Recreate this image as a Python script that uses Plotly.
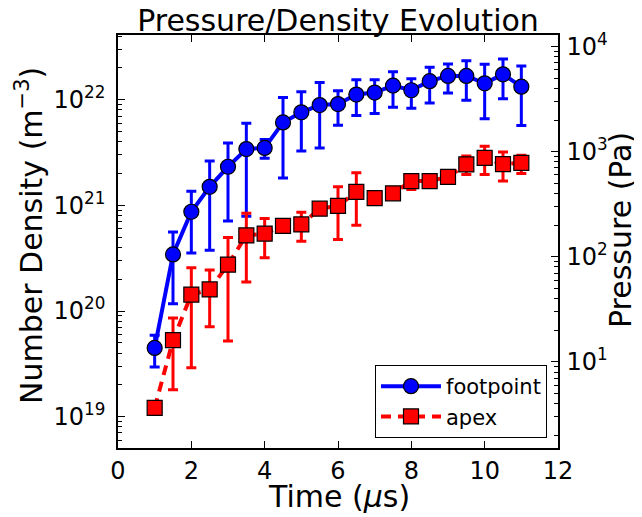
import plotly.graph_objects as go

# ---- data ----
time_us = [1, 1.5, 2, 2.5, 3, 3.5, 4, 4.5, 5, 5.5, 6, 6.5, 7, 7.5, 8, 8.5, 9, 9.5, 10, 10.5, 11]

foot_val = [4.47e19, 3.43e20, 8.7e20, 1.5e21, 2.32e21, 3.41e21, 3.5e21, 6.1e21, 7.6e21, 8.9e21, 9.1e21,
            1.12e22, 1.17e22, 1.36e22, 1.23e22, 1.5e22, 1.68e22, 1.68e22, 1.43e22, 1.74e22, 1.33e22]
foot_hi = [5.9e19, 5.6e20, 1.36e21, 2.63e21, 3.9e21, 6.0e21, 4.2e21, 1.05e22, 1.19e22, 1.46e22, 1.22e22,
           1.55e22, 1.55e22, 1.84e22, 1.58e22, 2.03e22, 2.18e22, 2.34e22, 2.17e22, 2.43e22, 2.09e22]
foot_lo = [2.95e19, 1.17e20, 3.55e20, 3.76e20, 7.1e20, 7.9e20, 2.8e21, 1.82e21, 3.27e21, 3.5e21, 5.75e21,
           7.1e21, 7.4e21, 8.5e21, 8.3e21, 9.3e21, 1.16e22, 9.9e21, 6.6e21, 1.02e22, 5.7e21]

apex_val = [1.21e19, 5.3e19, 1.43e20, 1.6e20, 2.75e20, 5.2e20, 5.4e20, 6.4e20, 6.6e20, 9.3e20, 9.9e20,
            1.34e21, 1.17e21, 1.3e21, 1.7e21, 1.7e21, 1.86e21, 2.44e21, 2.82e21, 2.46e21, 2.53e21]
apex_hi = [1.25e19, 8.6e19, 2.57e20, 2.45e20, 4.97e20, 8.4e20, 7.5e20, 6.9e20, 8.6e20, 1.0e21, 1.5e21,
           2.04e21, 1.26e21, 1.4e21, 1.96e21, 1.83e21, 2.0e21, 2.93e21, 3.63e21, 3.21e21, 2.99e21]
apex_lo = [1.17e19, 1.8e19, 2.9e19, 7.1e19, 5.2e19, 1.88e20, 3.2e20, 5.9e20, 4.57e20, 8.6e20, 4.75e20,
           6.5e20, 1.08e21, 1.2e21, 1.41e21, 1.58e21, 1.72e21, 1.96e21, 1.96e21, 1.7e21, 2.0e21]

x_ticks = [0, 2, 4, 6, 8, 10, 12]
density_exponents = [19, 20, 21, 22]
pressure_exponents = [1, 2, 3, 4]
density_range_log = [18.703, 22.613]
pressure_range_log = [0.18, 4.11]

FONT = "DejaVu Sans"
# the page body has an 8px margin, so the figure is drawn 8px right/down in the window
O = 8
W, H = 642 - O, 517 - O
PLOT_L, PLOT_R, PLOT_T, PLOT_B = 118, 558, 35, 448   # target window pixels
L, T = PLOT_L - O, PLOT_T - O
R, B = W - (PLOT_R - O), H - (PLOT_B - O)


def plus(v, h):
    return [a - b for a, b in zip(h, v)]


def minus(v, l):
    return [b - a for a, b in zip(l, v)]


def cx(px):   # window px -> container fraction
    return (px - O) / W


def cy(py):
    return 1 - (py - O) / H


def paper_x(px):
    return (px - PLOT_L) / (PLOT_R - PLOT_L)


def paper_y(py):
    return (PLOT_B - py) / (PLOT_B - PLOT_T)


fig = go.Figure()

fig.add_trace(go.Scatter(
    x=time_us, y=foot_val, name="footpoint", mode="lines+markers",
    line=dict(color="#0000ff", width=4),
    marker=dict(symbol="circle", size=15, color="#0000ff", line=dict(color="black", width=1.2)),
    error_y=dict(type="data", symmetric=False, array=plus(foot_val, foot_hi),
                 arrayminus=minus(foot_val, foot_lo), color="#0000ff", thickness=3, width=5),
))

fig.add_trace(go.Scatter(
    x=time_us, y=apex_val, name="apex", mode="lines+markers",
    line=dict(color="#ff0000", width=4, dash="10px,7px"),
    marker=dict(symbol="square", size=15, color="#ff0000", line=dict(color="black", width=1.2)),
    error_y=dict(type="data", symmetric=False, array=plus(apex_val, apex_hi),
                 arrayminus=minus(apex_val, apex_lo), color="#ff0000", thickness=3, width=5),
))

# invisible trace to activate the pressure axis
fig.add_trace(go.Scatter(x=[None], y=[None], yaxis="y2", showlegend=False, hoverinfo="skip"))

TICKFONT = dict(family=FONT, size=24, color="black")
common_y = dict(type="log", ticks="inside", ticklen=7, tickwidth=1, tickcolor="black",
                minor=dict(ticks="inside", ticklen=4, tickcolor="black", dtick="D1", showgrid=False),
                showline=True, linecolor="black", linewidth=1.5,
                showgrid=False, zeroline=False, automargin=False, tickfont=TICKFONT)

fig.update_layout(
    width=W, height=H,
    margin=dict(l=L, r=R, t=T, b=B, autoexpand=False),
    paper_bgcolor="white", plot_bgcolor="white",
    font=dict(family=FONT, size=21, color="black"),
    title=dict(text="Pressure/Density Evolution", xref="container", x=cx(338), xanchor="center",
               yref="container", y=cy(20), yanchor="middle",
               font=dict(family=FONT, size=30, color="black")),
    showlegend=True,
    legend=dict(x=paper_x(547), y=paper_y(438), xanchor="right", yanchor="bottom",
                bordercolor="black", borderwidth=1, bgcolor="white", itemwidth=60,
                font=dict(family=FONT, size=21, color="black")),
    xaxis=dict(range=[0, 12], tickvals=x_ticks, ticktext=[str(t) for t in x_ticks],
               ticks="inside", ticklen=7, tickwidth=1, tickcolor="black",
               showline=True, linecolor="black", linewidth=1.5, mirror="ticks",
               showgrid=False, zeroline=False, automargin=False, tickfont=TICKFONT),
    yaxis=dict(**common_y, range=density_range_log,
               tickvals=[10.0 ** e for e in density_exponents],
               ticktext=["10<sup>%d</sup>" % e for e in density_exponents],
               ticklabelstandoff=6),
    yaxis2=dict(**common_y, range=pressure_range_log, overlaying="y", side="right",
                tickvals=[10.0 ** e for e in pressure_exponents],
                ticktext=["10<sup>%d</sup>" % e for e in pressure_exponents],
                ticklabelstandoff=2),
    annotations=[
        dict(text="Time (<i>μ</i>s)", xref="paper", yref="paper",
             x=paper_x(339), y=paper_y(497), xanchor="center", yanchor="middle",
             showarrow=False, font=dict(family=FONT, size=30, color="black")),
        dict(text="Number Density (m<sup>−3</sup>)", xref="paper", yref="paper", textangle=-90,
             x=paper_x(29), y=paper_y(236), xanchor="center", yanchor="middle",
             showarrow=False, font=dict(family=FONT, size=30, color="black")),
        dict(text="Pressure (Pa)", xref="paper", yref="paper", textangle=-90,
             x=paper_x(620), y=paper_y(230), xanchor="center", yanchor="middle",
             showarrow=False, font=dict(family=FONT, size=30, color="black")),
    ],
)

fig.write_html("out.html")
